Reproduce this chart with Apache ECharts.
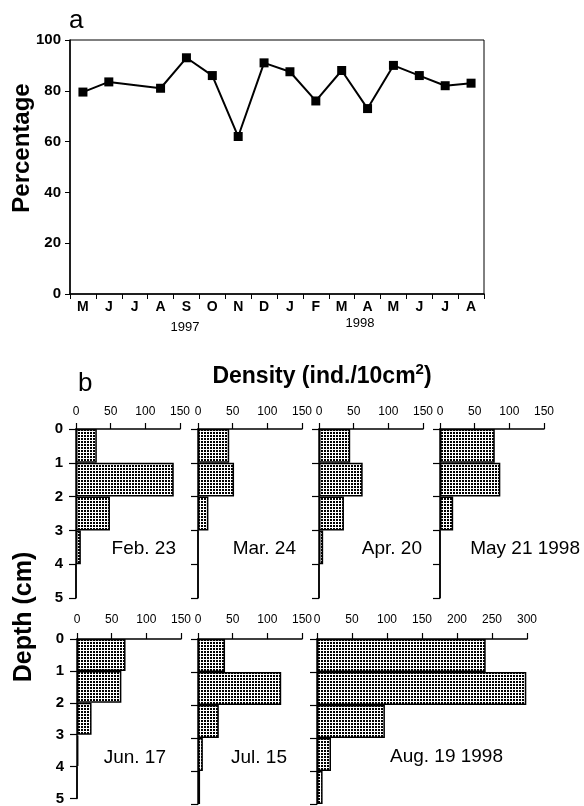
<!DOCTYPE html>
<html>
<head>
<meta charset="utf-8">
<script src="https://cdn.jsdelivr.net/npm/echarts@6/dist/echarts.min.js"></script>
<style>html,body{margin:0;padding:0;background:#fff}#c{width:584px;height:806px}</style>
</head>
<body>
<div id="c"></div>
<script>
// ---- Panel a data ----
var months = ['M','J','J','A','S','O','N','D','J','F','M','A','M','J','J','A'];
var percentage = [79.5, 83.5, null, 81, 93, 86, 62, 91, 87.5, 76, 88, 73, 90, 86, 82, 83];
var pctTicks = [0, 20, 40, 60, 80, 100];

// ---- Panel b data (density per depth layer 0-1,1-2,2-3,3-4,4-5 cm) ----
var depthLayers = ['0-1','1-2','2-3','3-4','4-5'];
var depthTicks = [0, 1, 2, 3, 4, 5];
var sampleNames = ['Feb. 23', 'Mar. 24', 'Apr. 20', 'May 21 1998', 'Jun. 17', 'Jul. 15', 'Aug. 19 1998'];
var feb23 = [30, 141, 49, 7, 0];
var mar24 = [45, 52, 15, 0, 0];
var apr20 = [45, 63, 36, 6, 0];
var may21 = [79, 87, 19, 0, 0];
var jun17 = [70, 64, 21, 2, 0];
var jul15 = [39, 120, 30, 7, 3];
var aug19 = [241, 299, 97, 20, 8];
var densityMax = [150, 150, 150, 150, 150, 150, 300];

var samples = [feb23, mar24, apr20, may21, jun17, jul15, aug19];

// dotted fill pattern
var pat = document.createElement('canvas');
pat.width = 3; pat.height = 3;
var pc = pat.getContext('2d');
pc.fillStyle = '#fff'; pc.fillRect(0, 0, 3, 3);
pc.fillStyle = '#000'; pc.fillRect(0, 0, 2, 2);

var FONT = '"Liberation Sans", Arial, Helvetica, sans-serif';

var chart = echarts.init(document.getElementById('c'), null, {renderer: 'canvas'});

var grids = [{left: 70, top: 40, width: 414, height: 254, show: true, borderColor: '#000', borderWidth: 1}];
var xAxes = [{
  gridIndex: 0, type: 'category', data: months, boundaryGap: true,
  axisLine: {lineStyle: {color: '#000', width: 1.5}},
  axisTick: {show: true, inside: false, length: 5, lineStyle: {color: '#000', width: 1}},
  axisLabel: {color: '#000', fontFamily: FONT, fontWeight: 'bold', fontSize: 14, margin: 6, interval: 0},
  splitLine: {show: false}
}];
var yAxes = [{
  gridIndex: 0, type: 'value', min: pctTicks[0], max: pctTicks[pctTicks.length - 1], interval: 20,
  axisLine: {show: true, lineStyle: {color: '#000', width: 1.5}},
  axisTick: {show: true, length: 5, lineStyle: {color: '#000', width: 1}},
  axisLabel: {color: '#000', fontFamily: FONT, fontWeight: 'bold', fontSize: 15, margin: 9},
  splitLine: {show: false}
}];
var series = [{
  type: 'line', xAxisIndex: 0, yAxisIndex: 0, data: percentage, connectNulls: true,
  symbol: 'rect', symbolSize: 9, itemStyle: {color: '#000'},
  lineStyle: {color: '#000', width: 2}, silent: true, animation: false
}];

var lefts = [76, 198, 319, 440, 77, 198, 317];
var widths = [104, 104, 104, 104, 104, 104, 210];
var tops = [429, 429, 429, 429, 639, 639, 639];
var heights = [169, 169, 169, 169, 165, 165, 165];
var labelMargins = [11, 11, 11, 11, 13, 13, 13];

for (var i = 0; i < samples.length; i++) {
  var g = i + 1;
  grids.push({left: lefts[i], top: tops[i], width: widths[i], height: heights[i]});
  xAxes.push({
    gridIndex: g, type: 'value', position: 'top', min: 0, max: densityMax[i], interval: 50,
    axisLine: {show: true, onZero: false, lineStyle: {color: '#000', width: 1.5}},
    axisTick: {show: true, length: 6, lineStyle: {color: '#000', width: 1.2}},
    axisLabel: {color: '#000', fontFamily: FONT, fontSize: 12, margin: labelMargins[i]},
    splitLine: {show: false}
  });
  // value depth axis (visible)
  yAxes.push({
    gridIndex: g, type: 'value', min: depthTicks[0], max: depthTicks[depthTicks.length - 1], interval: 1, inverse: true,
    axisLine: {show: true, onZero: false, lineStyle: {color: '#000', width: 1.5}},
    axisTick: {show: true, length: 7, lineStyle: {color: '#000', width: 1.2}},
    axisLabel: {show: (i === 0 || i === 4), color: '#000', fontFamily: FONT, fontWeight: 'bold', fontSize: 15, margin: 13},
    splitLine: {show: false}
  });
  // hidden category axis for layers
  yAxes.push({
    gridIndex: g, type: 'category', data: depthLayers, inverse: true, show: false, boundaryGap: true
  });
  series.push({
    type: 'bar', xAxisIndex: g, yAxisIndex: yAxes.length - 1, data: samples[i],
    barCategoryGap: '0%', barGap: '0%',
    itemStyle: {color: {image: pat, repeat: 'repeat'}, borderColor: '#000', borderWidth: 1.5},
    silent: true, animation: false
  });
}

var graphics = [
  {type: 'text', left: 69, top: 8, style: {text: 'a', font: 'normal 26px ' + FONT, fill: '#000'}},
  {type: 'text', x: 22, y: 148, rotation: Math.PI / 2, style: {text: 'Percentage', font: 'bold 24px ' + FONT, fill: '#000', textAlign: 'center', textVerticalAlign: 'middle'}},
  {type: 'text', x: 185, y: 327, style: {text: '1997', font: 'normal 13px ' + FONT, fill: '#000', textAlign: 'center', textVerticalAlign: 'middle'}},
  {type: 'text', x: 360, y: 323, style: {text: '1998', font: 'normal 13px ' + FONT, fill: '#000', textAlign: 'center', textVerticalAlign: 'middle'}},
  {type: 'text', x: 78, y: 384, style: {text: 'b', font: 'normal 26px ' + FONT, fill: '#000', textVerticalAlign: 'middle'}},
  {type: 'text', x: 322, y: 375, style: {
    text: '{n|Density (ind./10cm}{s|2}{n|)}', fill: '#000', textAlign: 'center', textVerticalAlign: 'middle',
    rich: {
      n: {fontFamily: FONT, fontWeight: 'bold', fontSize: 23, fill: '#000', color: '#000', verticalAlign: 'bottom', lineHeight: 26},
      s: {fontFamily: FONT, fontWeight: 'bold', fontSize: 15, fill: '#000', color: '#000', verticalAlign: 'top', lineHeight: 26, padding: [0, 0, 8, 0]}
    }
  }},
  {type: 'text', x: 24, y: 617, rotation: Math.PI / 2, style: {text: 'Depth (cm)', font: 'bold 25px ' + FONT, fill: '#000', textAlign: 'center', textVerticalAlign: 'middle'}}
];
var nameX = [176, 296, 422, 580, 166, 287, 503];
var nameY = [549, 549, 549, 549, 758, 758, 757];
for (var k = 0; k < sampleNames.length; k++) {
  graphics.push({type: 'text', x: nameX[k], y: nameY[k], style: {text: sampleNames[k], font: 'normal 19px ' + FONT, fill: '#000', textAlign: 'right', textVerticalAlign: 'middle'}});
}

chart.setOption({
  animation: false,
  backgroundColor: '#fff',
  grid: grids,
  xAxis: xAxes,
  yAxis: yAxes,
  series: series,
  graphic: graphics
});
</script>
</body>
</html>
